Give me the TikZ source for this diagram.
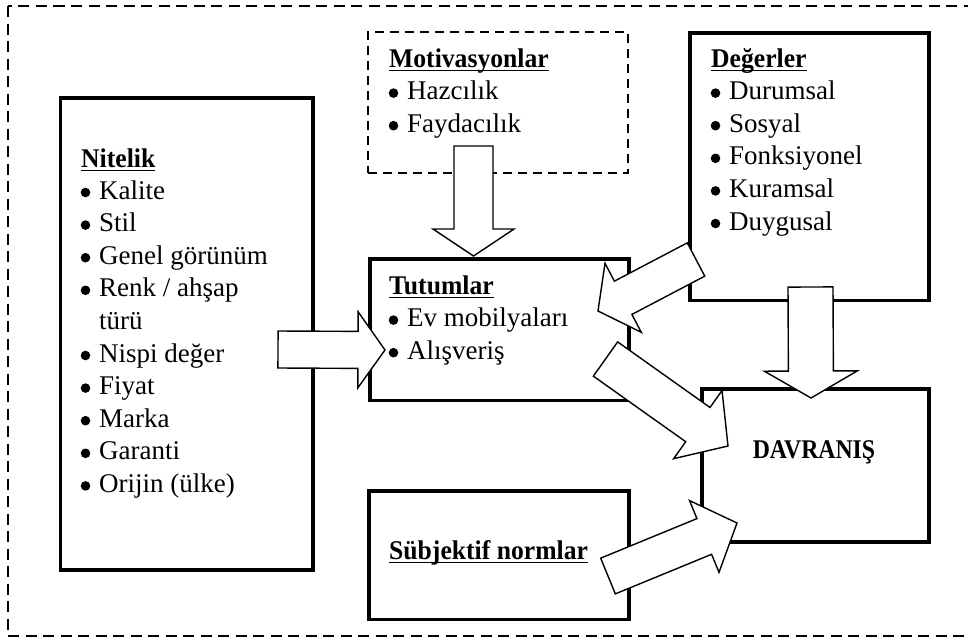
\documentclass[tikz,border=0pt]{standalone}
\usepackage{fontspec}
\usepackage{graphicx}
\setmainfont{Liberation Serif}
\usetikzlibrary{calc}
\tikzset{
  box/.style={draw, line width=3.5pt, fill=white, inner sep=0pt, anchor=north west},
  dbox/.style={draw, line width=2pt, dash pattern=on 9pt off 6pt, fill=white, inner sep=0pt, anchor=north west},
  outerframe/.style={draw, line width=2pt, dash pattern=on 11pt off 6.5pt},
  arrowshape/.style={draw, fill=white, line width=1.4pt, line join=miter},
  txt/.style={inner sep=0pt, anchor=base west, font=\fontsize{27}{32}\selectfont},
  hd/.style={inner sep=0pt, anchor=base west, font=\fontsize{27}{32}\selectfont\bfseries},
  uline/.style={line width=1.5pt},
}
\newcommand\bitem[4]{%
  \fill (#2+4.5,#3-6.5) circle (4.8pt);
  \node[txt] (#1) at (#2+18,#3) {#4};
}
\newcommand\heading[4]{%
  \node[hd] (#1) at (#2,#3) {\scalebox{0.95}[1]{#4}};
  \draw[uline] ([yshift=-3.5pt]#1.base west) -- ([yshift=-3.5pt]#1.base east);
}
\newcommand\blockarrow[5]{%
  \path ($(#2)!#5!(#1)$) coordinate (bah);
  \draw[arrowshape] ($(#1)!#3!90:(#2)$) -- ($(bah)!#3!90:(#2)$) -- ($(bah)!#4!90:(#2)$) -- (#2)
    -- ($(bah)!#4!-90:(#2)$) -- ($(bah)!#3!-90:(#2)$) -- ($(#1)!#3!-90:(#2)$) -- cycle;
}
\begin{document}
\begin{tikzpicture}[x=1pt,y=-1pt]
\useasboundingbox (0,0) rectangle (968,640);
\fill[white] (0,0) rectangle (968,640);
\draw[outerframe] (8,6) rectangle (990,636);

% boxes
\node[box, minimum width=252.6pt, minimum height=472pt] (nit) at (58.7,96) {};
\node[dbox, minimum width=260pt, minimum height=141pt] (mot) at (367,31) {};
\node[box, minimum width=239pt, minimum height=267.5pt] (deg) at (688,31) {};
\node[box, minimum width=259pt, minimum height=141.5pt] (tut) at (368,257) {};
\node[box, minimum width=227pt, minimum height=153pt] (dav) at (700,387) {};
\node[box, minimum width=260pt, minimum height=128.5pt] (sub) at (367,489) {};

% Nitelik
\heading{hnit}{81}{167}{Nitelik}
\bitem{n1}{81}{199}{Kalite}
\bitem{n2}{81}{231.6}{Stil}
\bitem{n3}{81}{264.2}{Genel görünüm}
\bitem{n4}{81}{296.8}{Renk / ahşap}
\node[txt] (n4b) at (99,329.4) {türü};
\bitem{n5}{81}{362}{Nispi değer}
\bitem{n6}{81}{394.6}{Fiyat}
\bitem{n7}{81}{427.2}{Marka}
\bitem{n8}{81}{459.8}{Garanti}
\bitem{n9}{81}{492.4}{Orijin (ülke)}

% Motivasyonlar
\heading{hmot}{389}{67}{Motivasyonlar}
\bitem{m1}{389}{99.6}{Hazcılık}
\bitem{m2}{389}{132.2}{Faydacılık}

% Degerler
\heading{hdeg}{711}{67}{Değerler}
\bitem{d1}{711}{99.6}{Durumsal}
\bitem{d2}{711}{132.2}{Sosyal}
\bitem{d3}{711}{164.8}{Fonksiyonel}
\bitem{d4}{711}{197.4}{Kuramsal}
\bitem{d5}{711}{230}{Duygusal}

% Tutumlar
\heading{htut}{389}{294}{Tutumlar}
\bitem{t1}{389}{326.6}{Ev mobilyaları}
\bitem{t2}{389}{359.2}{Alışveriş}

% Davranis
\node[inner sep=0pt, anchor=base, font=\fontsize{27}{32}\selectfont\bfseries] (davt) at (814,458) {\scalebox{0.88}[1]{DAVRANIŞ}};

% Subjektif
\heading{hsub}{389}{559}{Sübjektif normlar}

% arrows
\coordinate (a1s) at (473.5,146);   \coordinate (a1e) at (473.5,256);
\coordinate (a2s) at (278,349.5);   \coordinate (a2e) at (385,350);
\coordinate (a3s) at (696,259.5);   \coordinate (a3e) at (598,311);
\coordinate (a4s) at (605.5,359);   \coordinate (a4e) at (728,446);
\coordinate (a5s) at (810.5,287);   \coordinate (a5e) at (811,398);
\coordinate (a6s) at (608,576);     \coordinate (a6e) at (737,523);
\blockarrow{a1s}{a1e}{19.5pt}{40.5pt}{27pt}
\blockarrow{a2s}{a2e}{18.5pt}{38pt}{27pt}
\blockarrow{a3s}{a3e}{18.8pt}{39pt}{28.4pt}
\blockarrow{a4s}{a4e}{21pt}{41.8pt}{37pt}
\blockarrow{a5s}{a5e}{22.5pt}{46.5pt}{27pt}
\blockarrow{a6s}{a6e}{19.3pt}{38.8pt}{35.4pt}
\end{tikzpicture}
\end{document}
